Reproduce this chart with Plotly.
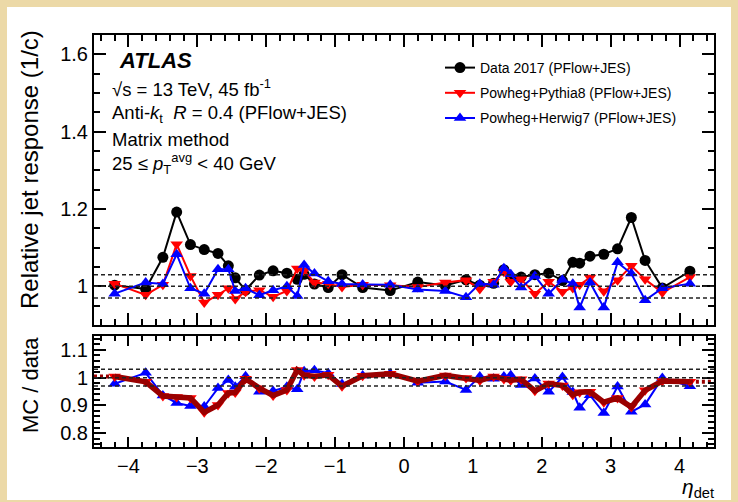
import plotly.graph_objects as go

# ---------------- data ----------------
eta = [-4.2, -3.75, -3.5, -3.3, -3.1, -2.9, -2.7, -2.55, -2.45, -2.3,
       -2.1, -1.9, -1.7, -1.55, -1.45, -1.3, -1.1, -0.9, -0.6, -0.2,
       0.2, 0.6, 0.9, 1.1, 1.3, 1.45, 1.55, 1.7, 1.9, 2.1,
       2.3, 2.45, 2.55, 2.7, 2.9, 3.1, 3.3, 3.5, 3.75, 4.15]

data2017 = [1.003, 0.993, 1.075, 1.192, 1.108, 1.095, 1.085, 1.053, 1.022, 0.990,
            1.029, 1.040, 1.034, 1.018, 1.031, 1.006, 0.997, 1.030, 0.997, 0.989,
            1.011, 1.002, 1.017, 1.003, 1.008, 1.043, 1.022, 1.024, 1.030, 1.034,
            1.015, 1.062, 1.060, 1.078, 1.083, 1.097, 1.178, 1.067, 0.996, 1.039]

pythia8 = [1.007, 0.978, 1.004, 1.109, 1.027, 0.958, 0.978, 0.995, 0.967, 0.986,
           0.990, 0.973, 0.988, 1.046, 1.040, 1.010, 1.007, 0.998, 1.004, 1.003,
           0.998, 1.010, 1.016, 0.993, 1.012, 1.038, 1.012, 1.018, 0.981, 1.012,
           0.986, 0.996, 1.004, 1.023, 0.987, 1.016, 1.053, 1.018, 0.984, 1.024]

herwig7 = [0.981, 1.010, 1.006, 1.083, 0.995, 0.981, 1.044, 1.044, 0.988, 0.995,
           0.977, 0.990, 1.000, 0.975, 1.055, 1.033, 1.013, 1.006, 1.005, 1.004,
           0.992, 0.988, 0.972, 1.007, 1.004, 1.047, 1.031, 0.997, 1.027, 0.981,
           1.017, 1.007, 0.945, 1.010, 0.945, 1.062, 1.033, 0.964, 0.995, 1.007]

names = ["Data 2017 (PFlow+JES)", "Powheg+Pythia8 (PFlow+JES)", "Powheg+Herwig7 (PFlow+JES)"]
ref_levels = [0.97, 1.0, 1.03]
x_range = [-4.5, 4.5]
top_range = [0.9, 1.65]
bot_range = [0.75, 1.15]

# MC / data ratios
ratio_p8 = [m / d for m, d in zip(pythia8, data2017)]
ratio_h7 = [m / d for m, d in zip(herwig7, data2017)]

FONT = "Liberation Sans, Arial, Helvetica, sans-serif"
BLACK, RED, BLUE, DARKRED = "#000000", "#ff0000", "#0000ff", "#9a0000"
PAPER = "#ecd9a7"

W, H = 738, 502
L, R, T, B = 94, 24, 35, 55
PH = H - T - B


def px(xpix):
    return (xpix - L) / (W - L - R)


def py(ypix):
    return (H - B - ypix) / PH


fig = go.Figure()

# ---- top panel ----
fig.add_trace(go.Scatter(x=eta, y=data2017, mode="lines+markers", name=names[0],
                         line=dict(color=BLACK, width=2),
                         marker=dict(symbol="circle", size=11, color=BLACK),
                         xaxis="x", yaxis="y", legendgroup="a"))
fig.add_trace(go.Scatter(x=eta, y=pythia8, mode="lines+markers", name=names[1],
                         line=dict(color=RED, width=2),
                         marker=dict(symbol="triangle-down", size=11, color=RED),
                         xaxis="x", yaxis="y", legendgroup="b"))
fig.add_trace(go.Scatter(x=eta, y=herwig7, mode="lines+markers", name=names[2],
                         line=dict(color=BLUE, width=2),
                         marker=dict(symbol="triangle-up", size=11, color=BLUE),
                         xaxis="x", yaxis="y", legendgroup="c"))

# ---- ratio panel ----
fig.add_trace(go.Scatter(x=eta, y=ratio_h7, mode="lines+markers", showlegend=False,
                         line=dict(color=BLUE, width=2),
                         marker=dict(symbol="triangle-up", size=11, color=BLUE),
                         xaxis="x2", yaxis="y2"))
fig.add_trace(go.Scatter(x=eta, y=ratio_p8, mode="markers", showlegend=False,
                         marker=dict(symbol="triangle-down", size=11, color=RED),
                         xaxis="x2", yaxis="y2"))
fig.add_trace(go.Scatter(x=eta, y=ratio_p8, mode="lines", showlegend=False,
                         line=dict(color=DARKRED, width=5.5),
                         xaxis="x2", yaxis="y2"))
fig.add_trace(go.Scatter(x=[x_range[0], eta[0]], y=[ratio_p8[0], ratio_p8[0]], mode="lines",
                         showlegend=False, line=dict(color=DARKRED, width=4, dash="3px,3px"),
                         xaxis="x2", yaxis="y2"))
fig.add_trace(go.Scatter(x=[eta[-1], x_range[1]], y=[ratio_p8[-1], ratio_p8[-1]], mode="lines",
                         showlegend=False, line=dict(color=DARKRED, width=4, dash="3px,3px"),
                         xaxis="x2", yaxis="y2"))

shapes = []
# white page behind the figure
shapes.append(dict(type="rect", xref="paper", yref="paper", layer="below",
                   x0=px(7), x1=px(731), y0=py(500), y1=py(7),
                   fillcolor="white", line=dict(width=0)))
for yref in ["y", "y2"]:
    for lv in ref_levels:
        shapes.append(dict(type="line", xref=("x domain" if yref == "y" else "x2 domain"),
                           yref=yref, x0=0, x1=1, y0=lv, y1=lv, layer="above",
                           line=dict(color="#222222", width=1.5, dash="4px,3px")))

ann = []
ann.append(dict(text="<b><i>ATLAS</i></b>", x=px(117), y=py(61), xref="paper", yref="paper",
                xanchor="left", yanchor="middle", showarrow=False,
                font=dict(family=FONT, size=22, color="black")))
lines = [("√s = 13 TeV, 45 fb<sup>-1</sup>", 88),
         ("Anti-<i>k</i><sub>t</sub>  <i>R</i> = 0.4 (PFlow+JES)", 114),
         ("Matrix method", 139),
         ("25 ≤ <i>p</i><sub>T</sub><sup>avg</sup> < 40 GeV", 163)]
for txt, yy in lines:
    ann.append(dict(text=txt, x=px(110), y=py(yy), xref="paper", yref="paper",
                    xanchor="left", yanchor="middle", showarrow=False,
                    font=dict(family=FONT, size=18.5, color="black")))
ann.append(dict(text="Relative jet response (1/c)", x=px(29), y=py(170), xref="paper", yref="paper",
                xanchor="center", yanchor="middle", textangle=-90, showarrow=False,
                font=dict(family=FONT, size=24, color="black")))
ann.append(dict(text="MC / data", x=px(30), y=py(385), xref="paper", yref="paper",
                xanchor="center", yanchor="middle", textangle=-90, showarrow=False,
                font=dict(family=FONT, size=22, color="black")))
ann.append(dict(text="<i>η</i><sub>det</sub>", x=px(716), y=py(488), xref="paper", yref="paper",
                xanchor="right", yanchor="middle", showarrow=False,
                font=dict(family=FONT, size=21, color="black")))

axis_common = dict(showline=True, linecolor="black", linewidth=2, mirror="allticks",
                   ticks="inside", tickcolor="black", tickwidth=1.5, showgrid=False,
                   zeroline=False, tickfont=dict(family=FONT, size=20, color="black"))

fig.update_layout(
    width=W, height=H,
    margin=dict(l=L, r=R, t=T, b=B),
    paper_bgcolor=PAPER,
    plot_bgcolor="white",
    shapes=shapes,
    annotations=ann,
    showlegend=True,
    legend=dict(x=px(440), y=py(52), xanchor="left", yanchor="top",
                bgcolor="rgba(0,0,0,0)", borderwidth=0, tracegroupgap=4,
                font=dict(family=FONT, size=14, color="black")),
    xaxis=dict(domain=[0, 1], range=x_range, anchor="y", showticklabels=False,
               dtick=1, tick0=0, ticklen=12,
               minor=dict(dtick=0.2, tick0=0, ticklen=6, ticks="inside", tickcolor="black", tickwidth=1.5),
               **axis_common),
    yaxis=dict(domain=[py(325), 1], range=top_range, anchor="x",
               tickvals=[1.0, 1.2, 1.4, 1.6], ticktext=["1", "1.2", "1.4", "1.6"], ticklen=12,
               minor=dict(dtick=0.05, tick0=0, ticklen=6, ticks="inside", tickcolor="black", tickwidth=1.5),
               **axis_common),
    xaxis2=dict(domain=[0, 1], range=x_range, anchor="y2", matches="x",
                tickvals=[-4, -3, -2, -1, 0, 1, 2, 3, 4],
                ticktext=["−4", "−3", "−2", "−1", "0", "1", "2", "3", "4"], ticklen=10,
                minor=dict(dtick=0.2, tick0=0, ticklen=5, ticks="inside", tickcolor="black", tickwidth=1.5),
                **axis_common),
    yaxis2=dict(domain=[0, py(336)], range=bot_range, anchor="x2",
                tickvals=[0.8, 0.9, 1.0, 1.1], ticktext=["0.8", "0.9", "1", "1.1"], ticklen=12,
                minor=dict(dtick=0.02, tick0=0, ticklen=6, ticks="inside", tickcolor="black", tickwidth=1.5),
                **axis_common),
)

# remove the browser's default 8px page margin so the figure fills the window exactly
fig.write_html("out.html",
               config={"displayModeBar": False},
               post_script="document.body.style.margin='0';document.body.style.background='%s';" % PAPER)
